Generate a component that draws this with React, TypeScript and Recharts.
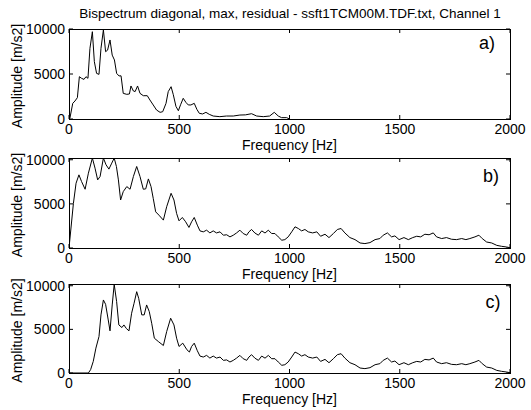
import { Line, LineChart, ReferenceArea, XAxis, YAxis } from "recharts";

const FONT = "'Liberation Sans', Arial, Helvetica, sans-serif";

const TITLE = "Bispectrum diagonal, max, residual - ssft1TCM00M.TDF.txt, Channel 1";
const X_LABEL = "Frequency [Hz]";
const Y_LABEL = "Amplitude [m/s2]";

const xTicks = [0, 500, 1000, 1500, 2000];
const yTicks = [0, 5000, 10000];

// a) max
const freqA = [
  0, 4, 17, 27, 38, 47, 57, 68, 77, 86, 95, 106, 115, 125, 136, 145, 156, 166, 175, 186, 196, 206,
  216, 227, 236, 246, 262, 274, 281, 292, 300, 311, 322, 337, 355, 367, 382, 397, 413, 425, 440,
  450, 463, 473, 485, 496, 506, 518, 530, 541, 553, 568, 580, 591, 606, 621, 636, 654, 684, 714,
  745, 775, 800, 828, 851, 881, 910, 931, 949, 964, 987, 1000,
];
const ampA = [
  0, 80, 1740, 2000, 2370, 4700, 4520, 4400, 4700, 4520, 7850, 9700, 6370, 5070, 4960, 7850, 9900,
  7480, 7650, 8780, 7100, 6560, 5070, 4780, 4800, 2850, 2740, 2780, 3670, 3110, 3050, 3670, 2850,
  2590, 2590, 2110, 1560, 1000, 740, 810, 1740, 3040, 3590, 2700, 1400, 920, 1580, 2300, 1850,
  1560, 1560, 1740, 1070, 630, 560, 740, 520, 330, 260, 330, 330, 440, 460, 590, 330, 260, 330,
  740, 330, 150, 150, 0,
];

// b) start of the diagonal
const freqHeadB = [
  0, 20, 32, 45, 57, 73, 88, 106, 118, 130, 141, 156, 168, 181, 194, 205, 215, 224, 234, 246, 262,
  277, 292, 307, 322, 337, 348, 360, 372, 382, 393, 408, 428, 443, 463, 476, 488, 499, 514, 529,
  544, 556, 568, 582,
];
const ampHeadB = [
  0, 5060, 7340, 8290, 7530, 6660, 8480, 10190, 9050, 7720, 8100, 10190, 9430, 8940, 9620, 10190,
  9240, 7720, 5440, 6390, 6960, 6660, 8100, 9240, 8100, 6660, 6700, 7830, 6960, 5630, 4100, 3720,
  3160, 4680, 6200, 5440, 3920, 3080, 3460, 2970, 2330, 2970, 3460, 2590,
];

// c) residual, start
const freqHeadC = [
  0, 88, 98, 110, 122, 136, 145, 156, 166, 178, 186, 196, 205, 216, 226, 240, 249, 260, 272, 284,
  295, 307, 316, 330, 341, 352, 364, 375, 387, 405, 428, 443, 461, 476, 488, 499, 516, 535, 546,
  556, 568, 582,
];
const ampHeadC = [
  0, 0, 380, 1330, 2850, 4180, 6660, 8370, 7870, 6080, 4830, 7800, 10160, 8180, 5510, 5210, 5510,
  5100, 4830, 6850, 7990, 9320, 8560, 6660, 6660, 7800, 7040, 5700, 3990, 3610, 3150, 4750, 6280,
  5510, 3990, 3040, 3420, 2660, 2400, 3040, 3420, 2550,
];

// b) and c) share the same high-frequency part
const freqTail = [
  594, 609, 624, 639, 654, 669, 685, 700, 715, 730, 745, 760, 775, 790, 806, 816, 828, 843, 859,
  874, 889, 904, 919, 934, 949, 965, 979, 994, 1010, 1025, 1040, 1055, 1070, 1085, 1105, 1124,
  1141, 1161, 1179, 1199, 1217, 1234, 1251, 1274, 1297, 1320, 1342, 1365, 1388, 1410, 1425, 1444,
  1463, 1478, 1497, 1519, 1539, 1559, 1577, 1595, 1614, 1633, 1652, 1667, 1690, 1712, 1735, 1758,
  1781, 1800, 1818, 1841, 1859, 1874, 1894, 1917, 1940, 1962, 1985, 2000,
];
const ampTail = [
  1940, 1830, 2020, 1710, 1940, 1710, 1830, 1450, 1500, 1260, 1450, 1710, 2020, 1640, 1450, 1830,
  2100, 1700, 1450, 1940, 1700, 2020, 1640, 1640, 1260, 880, 950, 1260, 1830, 2400, 2210, 1940,
  2100, 1830, 1710, 1830, 1330, 1560, 1180, 1640, 2100, 2210, 1710, 1180, 950, 570, 500, 610, 950,
  1070, 1450, 1710, 1260, 1370, 950, 1180, 950, 1180, 1330, 1260, 1560, 1500, 1710, 1260, 1070,
  1180, 990, 950, 1070, 950, 1070, 1260, 1450, 1070, 680, 570, 300, 190, 110, 30,
];

const toRows = (f: number[], v: number[]) => f.map((x, i) => ({ f: x, v: v[i] }));

const PLOT_LEFT = 69;
const PLOT_RIGHT = 510;
const PLOT_W = PLOT_RIGHT - PLOT_LEFT;
const W = 531;

const panels = [
  { letter: "a)", top: 29, bottom: 119, ymax: 10000, lx: 487, ly: 43, data: toRows(freqA, ampA) },
  {
    letter: "b)",
    top: 158,
    bottom: 248,
    ymax: 10200,
    lx: 491,
    ly: 176,
    data: toRows([...freqHeadB, ...freqTail], [...ampHeadB, ...ampTail]),
  },
  {
    letter: "c)",
    top: 284,
    bottom: 373,
    ymax: 10200,
    lx: 493,
    ly: 302,
    data: toRows([...freqHeadC, ...freqTail], [...ampHeadC, ...ampTail]),
  },
];

const makeXTick = (plotH: number) => (props: any) => {
  const { x, y, payload } = props;
  return (
    <g>
      <line x1={x} y1={y} x2={x} y2={y - 4} stroke="#000" />
      <line x1={x} y1={y - plotH} x2={x} y2={y - plotH + 4} stroke="#000" />
      <text
        x={x}
        y={y + 10}
        textAnchor="middle"
        dominantBaseline="central"
        fontSize={14}
        fontFamily={FONT}
        fill="#000"
      >
        {payload.value}
      </text>
    </g>
  );
};

const YTick = (props: any) => {
  const { x, y, payload } = props;
  return (
    <g>
      <line x1={x} y1={y} x2={x + 4} y2={y} stroke="#000" />
      <line x1={x + PLOT_W} y1={y} x2={x + PLOT_W - 4} y2={y} stroke="#000" />
      <text
        x={x - 4}
        y={y}
        textAnchor="end"
        dominantBaseline="central"
        fontSize={14}
        fontFamily={FONT}
        fill="#000"
      >
        {payload.value}
      </text>
    </g>
  );
};

const App = () => {
  return (
    <div style={{ position: "absolute", left: 0, top: 0, width: W, height: 410, background: "#fff" }}>
      {panels.map((p) => {
        const chartTop = p.top - 10;
        const plotH = p.bottom - p.top;
        const height = p.bottom - chartTop + 30;
        return (
          <div key={p.letter} style={{ position: "absolute", left: 0, top: chartTop }}>
            <LineChart
              width={W}
              height={height}
              data={p.data}
              margin={{ top: 10, right: W - PLOT_RIGHT, left: 0, bottom: 0 }}
            >
              <XAxis
                dataKey="f"
                type="number"
                domain={[0, 2000]}
                ticks={xTicks}
                interval={0}
                height={30}
                axisLine={false}
                tickLine={false}
                tickSize={0}
                tickMargin={0}
                tick={makeXTick(plotH)}
                allowDataOverflow
              />
              <YAxis
                type="number"
                domain={[0, p.ymax]}
                ticks={yTicks}
                interval={0}
                width={PLOT_LEFT}
                axisLine={false}
                tickLine={false}
                tickSize={0}
                tickMargin={0}
                tick={YTick}
                allowDataOverflow
              />
              <ReferenceArea
                x1={0}
                x2={2000}
                y1={0}
                y2={p.ymax}
                fill="none"
                fillOpacity={0}
                stroke="#000"
                strokeWidth={1}
                shapeRendering="crispEdges"
              />
              <Line
                type="linear"
                dataKey="v"
                stroke="#000"
                strokeWidth={1}
                dot={false}
                activeDot={false}
                isAnimationActive={false}
              />
            </LineChart>
          </div>
        );
      })}
      <svg
        width={W}
        height={410}
        style={{ position: "absolute", left: 0, top: 0, pointerEvents: "none" }}
        fontFamily={FONT}
      >
        <text x={290} y={13} textAnchor="middle" dominantBaseline="central" fontSize={13.5} fill="#000">
          {TITLE}
        </text>
        {panels.map((p) => (
          <g key={p.letter}>
            <text
              x={(PLOT_LEFT + PLOT_RIGHT) / 2}
              y={p.bottom + 26}
              textAnchor="middle"
              dominantBaseline="central"
              fontSize={14}
              fill="#000"
            >
              {X_LABEL}
            </text>
            <text
              transform={`translate(22, ${(p.top + p.bottom) / 2 + 2}) rotate(-90)`}
              textAnchor="middle"
              fontSize={14}
              fill="#000"
            >
              {Y_LABEL}
            </text>
            <text x={p.lx} y={p.ly} textAnchor="middle" dominantBaseline="central" fontSize={18} fill="#000">
              {p.letter}
            </text>
          </g>
        ))}
      </svg>
    </div>
  );
};

export default App;
